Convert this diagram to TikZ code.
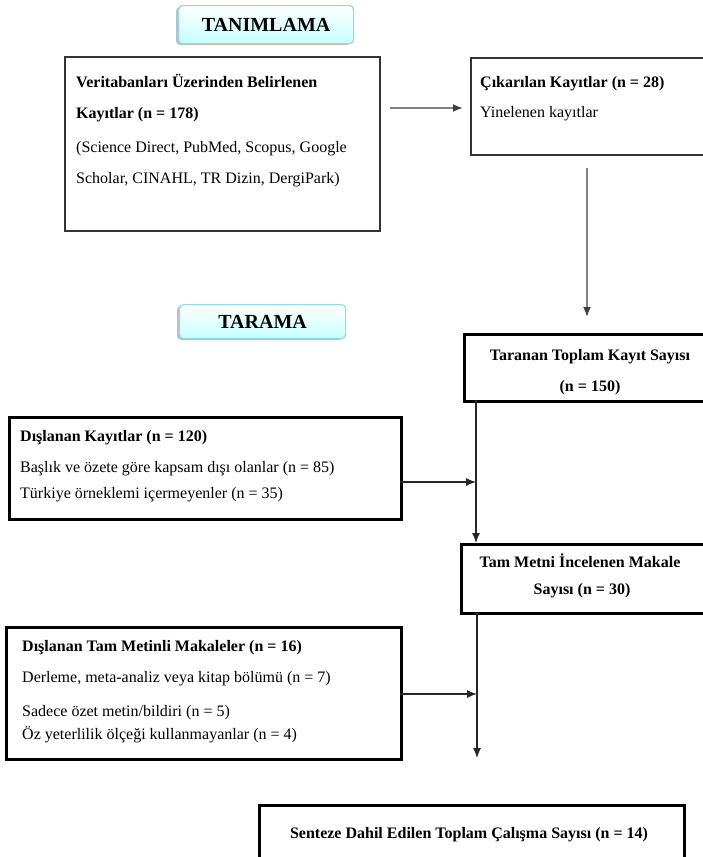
\documentclass[tikz,border=0pt]{standalone}
\usepackage{fontspec}
\setmainfont{Liberation Serif}
\usetikzlibrary{arrows.meta}
\begin{document}
\begin{tikzpicture}[x=1pt,y=-1pt,
  titlebox/.style={draw=cyan!45!white, line width=1.2pt, rounded corners=4pt, top color=white, bottom color=cyan!22!white, inner sep=0pt},
  thinbox/.style={draw=black!80, line width=1.7pt, inner sep=0pt, anchor=north west},
  thickbox/.style={draw=black, line width=2.8pt, inner sep=0pt, anchor=north west},
  txt/.style={anchor=base west, inner sep=0pt, font=\fontsize{16}{18}\selectfont},
  btxt/.style={anchor=base west, inner sep=0pt, font=\fontsize{16}{18}\selectfont\bfseries},
  ctxt/.style={anchor=base, inner sep=0pt, font=\fontsize{16}{18}\selectfont\bfseries},
  titletxt/.style={font=\fontsize{20}{22}\selectfont\bfseries},
  garrow/.style={draw=black!50, line width=1.8pt, -{Latex[length=10pt,width=8pt,color=black!75]}},
  barrow/.style={draw=black!85, line width=1.2pt, -{Latex[length=10pt,width=8pt]}}
]
\useasboundingbox (0,0) rectangle (703,857);
% title boxes
\fill[black!25, rounded corners=4pt] (176,7) rectangle (351,45);
\node[titlebox, minimum width=175pt, minimum height=38pt, anchor=north west] (t1) at (178,5) {};
\node[titletxt] at (t1.center) {TANIMLAMA};
\fill[black!25, rounded corners=4pt] (177,306) rectangle (343,340);
\node[titlebox, minimum width=166pt, minimum height=34pt, anchor=north west] (t2) at (179,304) {};
\node[titletxt] at (t2.center) {TARAMA};
% box 1
\node[thinbox, minimum width=315pt, minimum height=174pt] (b1) at (64,56) {};
\node[btxt] (b1a) at (76,87) {Veritabanları Üzerinden Belirlenen};
\node[btxt] (b1b) at (76,118) {Kayıtlar (n = 178)};
\node[txt] (b1c) at (76,152) {(Science Direct, PubMed, Scopus, Google};
\node[txt] (b1d) at (76,183) {Scholar, CINAHL, TR Dizin, DergiPark)};
% box 2
\node[thinbox, minimum width=240pt, minimum height=97pt] (b2) at (470,57) {};
\node[btxt] (b2a) at (480,87) {Çıkarılan Kayıtlar (n = 28)};
\node[txt] (b2b) at (480,117) {Yinelenen kayıtlar};
% box 3
\node[thickbox, minimum width=250pt, minimum height=67pt] (b3) at (463,333) {};
\node[ctxt] (b3a) at (590,360) {Taranan Toplam Kayıt Sayısı};
\node[ctxt] (b3b) at (590,391) {(n = 150)};
% box 4
\node[thickbox, minimum width=392pt, minimum height=102pt] (b4) at (8,416) {};
\node[btxt] (b4a) at (20,441) {Dışlanan Kayıtlar (n = 120)};
\node[txt] (b4b) at (20,472) {Başlık ve özete göre kapsam dışı olanlar (n = 85)};
\node[txt] (b4c) at (20,498) {Türkiye örneklemi içermeyenler (n = 35)};
% box 5
\node[thickbox, minimum width=250pt, minimum height=69pt] (b5) at (460,543) {};
\node[ctxt] (b5a) at (580,567) {Tam Metni İncelenen Makale};
\node[ctxt] (b5b) at (582,594) {Sayısı (n = 30)};
% box 6
\node[thickbox, minimum width=395pt, minimum height=132pt] (b6) at (5,626) {};
\node[btxt] (b6a) at (22,651) {Dışlanan Tam Metinli Makaleler (n = 16)};
\node[txt] (b6b) at (22,682) {Derleme, meta-analiz veya kitap bölümü (n = 7)};
\node[txt] (b6c) at (22,716) {Sadece özet metin/bildiri (n = 5)};
\node[txt] (b6d) at (22,739) {Öz yeterlilik ölçeği kullanmayanlar (n = 4)};
% box 7
\node[thickbox, minimum width=425pt, minimum height=56pt] (b7) at (258,804) {};
\node[ctxt] (b7a) at (469,838) {Senteze Dahil Edilen Toplam Çalışma Sayısı (n = 14)};
% connectors
\coordinate (c1) at (390,108);
\draw[garrow, shorten >=7pt] (c1) -- (b2.west |- c1);
\coordinate (c2) at (587,168);
\draw[garrow, shorten >=16pt] (c2) -- (b3.north -| c2);
\coordinate (c3) at (476,400);
\draw[barrow] (c3) -- (b5.north -| c3);
\coordinate (c4) at (400,482);
\draw[barrow] (c4) -- (c4 -| c3);
\coordinate (c5) at (477,612);
\coordinate (c6) at (477,758);
\draw[barrow] (c5) -- (c6);
\coordinate (c7) at (400,694);
\draw[barrow] (c7) -- (c7 -| c5);
\end{tikzpicture}
\end{document}
